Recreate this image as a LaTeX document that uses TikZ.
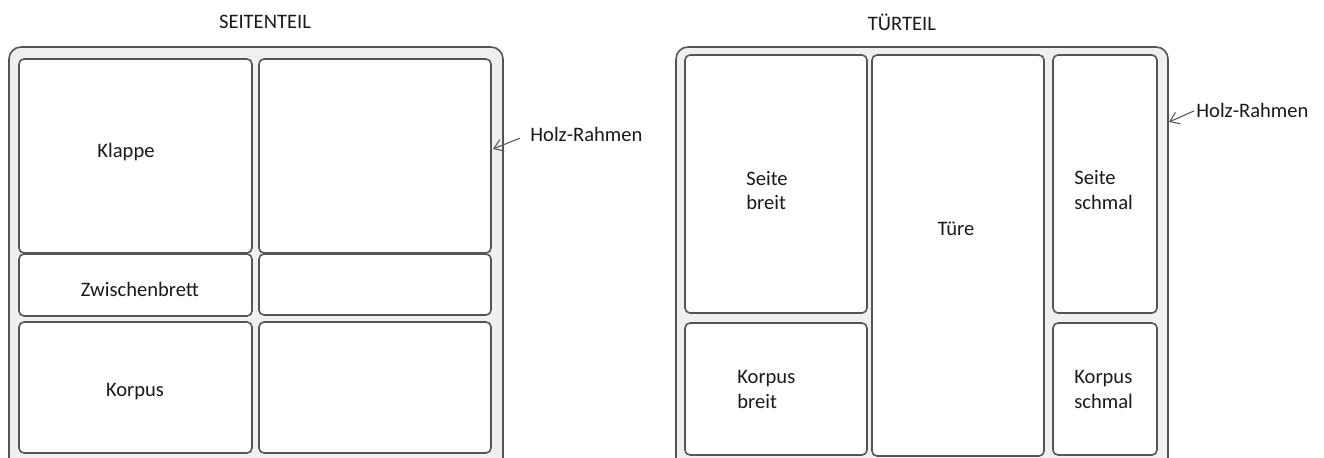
\documentclass[tikz,border=0pt]{standalone}
\usepackage{fontspec}
\setmainfont{Carlito}
\usepackage{tikz}
\usetikzlibrary{arrows.meta, positioning}
\definecolor{rahmengrau}{HTML}{F0F0F0}
\definecolor{liniengrau}{HTML}{555555}
\definecolor{schrift}{HTML}{1A1A1A}

\begin{document}
\begin{tikzpicture}[
    rahmen/.style={line width=0.9pt, draw=liniengrau, fill=rahmengrau, rounded corners=0.24cm},
    feld/.style={line width=0.9pt, draw=liniengrau, fill=white, rounded corners=0.1cm},
    beschr/.style={inner sep=0pt, text=schrift, font=\fontsize{11.7}{14.2}\selectfont},
    pfeil/.style={-{Straight Barb[length=5pt,width=7pt]}, line width=0.6pt, draw=liniengrau}
]
\clip (0,0) rectangle (26.48,-9.14);
\fill [white] (0,0) rectangle (26.48,-9.14);

\node [beschr] (titelseite) at (5.30,-0.44) {SEITENTEIL};
\draw [rahmen] (0.18,-0.94) rectangle (10.06,-9.60);
\draw [feld] (0.38,-1.18) rectangle (5.04,-5.06);
\draw [feld] (5.18,-1.18) rectangle (9.82,-5.06);
\draw [feld] (0.38,-5.08) rectangle (5.04,-6.32);
\draw [feld] (5.18,-5.08) rectangle (9.82,-6.30);
\draw [feld] (0.38,-6.44) rectangle (5.04,-9.06);
\draw [feld] (5.18,-6.44) rectangle (9.82,-9.06);
\node [beschr] (klappe) at (2.52,-3.04) {Klappe};
\node [beschr] (zwischenbrett) at (2.80,-5.78) {Zwischenbrett};
\node [beschr] (korpus) at (2.70,-7.84) {Korpus};
\node [beschr, anchor=west] (holzlinks) at (10.60,-2.68) {Holz-Rahmen};
\coordinate (kantelinks) at (9.86,-2.98);
\draw [pfeil, shorten <=0.22cm] (holzlinks.west) -- (kantelinks);

\node [beschr] (titeltuer) at (18.04,-0.44) {TÜRTEIL};
\draw [rahmen] (13.52,-0.94) rectangle (23.36,-9.60);
\draw [feld] (13.70,-1.10) rectangle (17.34,-6.26);
\draw [feld] (13.70,-6.46) rectangle (17.34,-9.10);
\draw [feld] (17.44,-1.10) rectangle (20.88,-9.12);
\draw [feld] (21.06,-1.10) rectangle (23.14,-6.26);
\draw [feld] (21.06,-6.46) rectangle (23.14,-9.10);
\node [beschr, anchor=west, align=left] (seitebreit) at (14.92,-3.81) {Seite\\breit};
\node [beschr, anchor=west, align=left] (korpusbreit) at (14.74,-7.79) {Korpus\\breit};
\node [beschr] (tuere) at (19.12,-4.58) {Türe};
\node [beschr, anchor=west, align=left] (seiteschmal) at (21.48,-3.80) {Seite\\schmal};
\node [beschr, anchor=west, align=left] (korpusschmal) at (21.48,-7.78) {Korpus\\schmal};
\node [beschr, anchor=west] (holzrechts) at (23.92,-2.20) {Holz-Rahmen};
\coordinate (kanterechts) at (23.38,-2.44);
\draw [pfeil, shorten <=0.04cm] (holzrechts.west) -- (kanterechts);
\end{tikzpicture}
\end{document}
